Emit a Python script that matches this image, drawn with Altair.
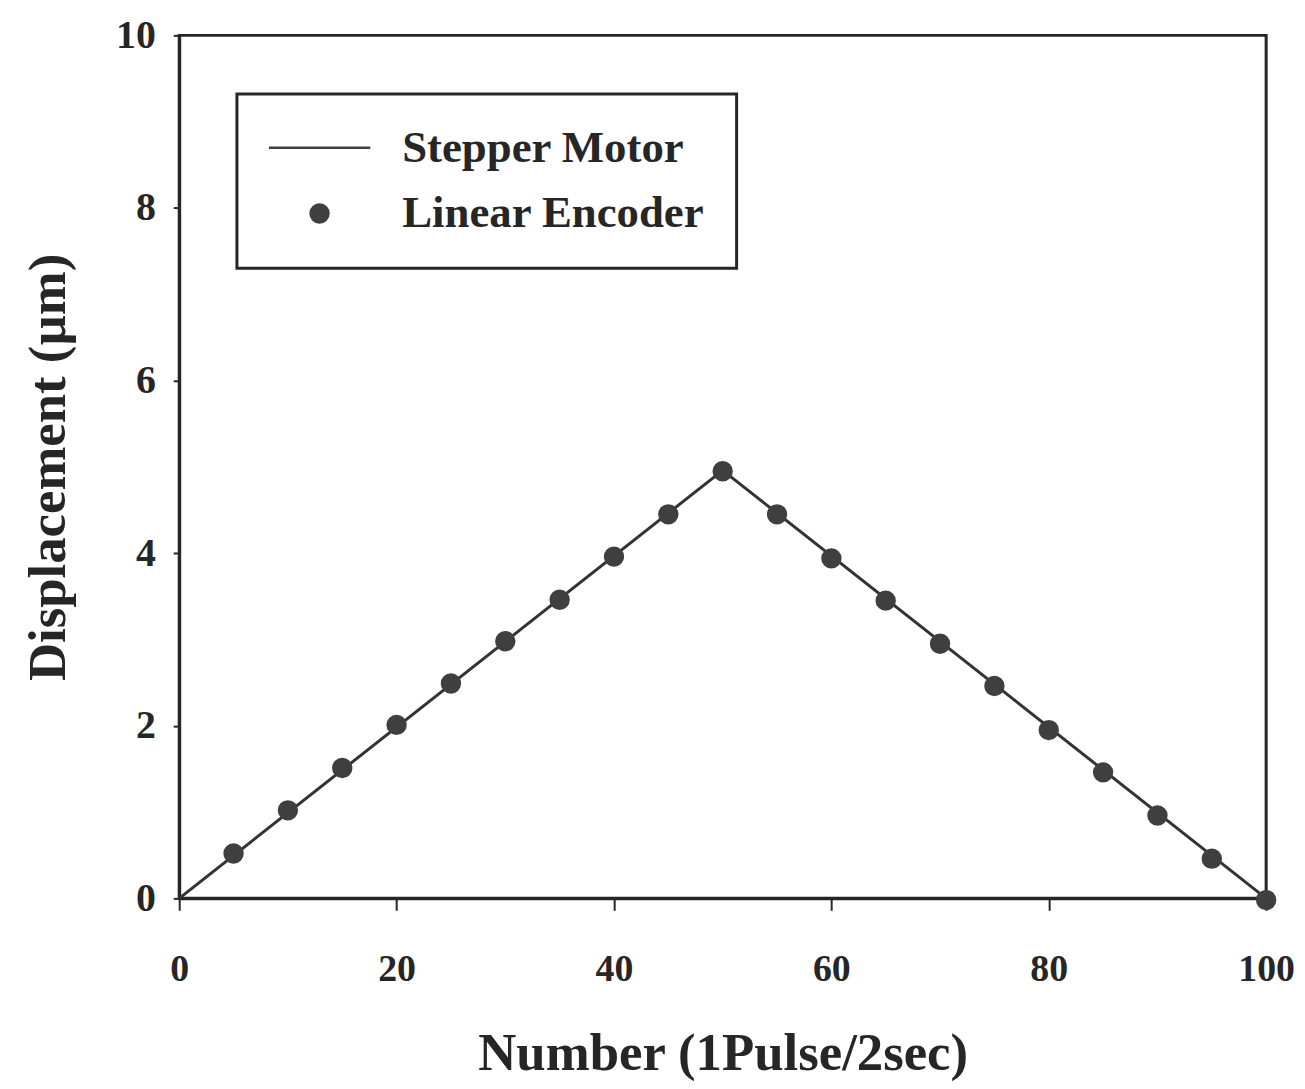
import altair as alt
import pandas as pd

# ---- data ----
motor_x = [0, 50, 100]
motor_y = [0.0, 4.96, 0.0]

enc_x = [5, 10, 15, 20, 25, 30, 35, 40, 45, 50,
         55, 60, 65, 70, 75, 80, 85, 90, 95, 100]
enc_y = [0.52, 1.02, 1.51, 2.01, 2.49, 2.98, 3.46, 3.96, 4.45, 4.95,
         4.45, 3.94, 3.45, 2.95, 2.46, 1.95, 1.46, 0.96, 0.46, -0.02]

series_names = ["Stepper Motor", "Linear Encoder"]
x_ticks = [0, 20, 40, 60, 80, 100]
y_ticks = [0, 2, 4, 6, 8, 10]

motor = pd.DataFrame({"x": motor_x, "y": motor_y, "series": series_names[0]})
enc = pd.DataFrame({"x": enc_x, "y": enc_y, "series": series_names[1]})

FONT = "Liberation Serif"
INK = "#262626"
LINE_SYMBOL = "M-1,-0.025H1V0.025H-1Z"

x_enc = alt.X(
    "x:Q",
    scale=alt.Scale(domain=[0, 100], nice=False, zero=False),
    axis=alt.Axis(
        values=x_ticks, title="Number (1Pulse/2sec)", grid=False,
        labelFontSize=38, titleFontSize=53, labelPadding=41, titlePadding=39,
        tickSize=12, labelFlush=False,
    ),
)
y_enc = alt.Y(
    "y:Q",
    scale=alt.Scale(domain=[0, 10], nice=False, zero=False),
    axis=alt.Axis(
        values=y_ticks, title="Displacement (µm)", grid=False,
        labelFontSize=40, titleFontSize=53, labelPadding=18, titlePadding=40,
        tickSize=6, labelFlush=False,
    ),
)

line = alt.Chart(motor).mark_line(color="#333333", strokeWidth=3).encode(x=x_enc, y=y_enc)

legend_kw = dict(
    title=None, orient="none", legendX=58, legendY=59,
    labelFont=FONT, labelFontSize=45, labelFontWeight="bold", labelColor=INK,
    labelOffset=32, padding=32, rowPadding=21, labelLimit=800, clipHeight=44,
    strokeColor=INK,
    symbolFillColor="#3a3a3a", symbolStrokeWidth=0,
    fillColor="white",
)

points = alt.Chart(enc).mark_point(
    filled=True, opacity=1, fill="#3f3f3f", strokeWidth=0
).encode(
    x=x_enc,
    y=y_enc,
    shape=alt.Shape("series:N", scale=alt.Scale(domain=series_names, range=[LINE_SYMBOL, "circle"]),
                    legend=alt.Legend(**legend_kw)),
    size=alt.Size("series:N", scale=alt.Scale(domain=series_names, range=[10404, 420]),
                  legend=alt.Legend(**legend_kw)),
)

chart = (
    alt.layer(line, points)
    .properties(width=1092, height=867, autosize="none", background="white",
                padding={"left": 172, "top": 25, "right": 31, "bottom": 185})
    .configure_view(stroke=INK, strokeWidth=3)
    .configure_axis(
        labelFont=FONT, titleFont=FONT, labelFontWeight="bold", titleFontWeight="bold",
        labelColor=INK, titleColor=INK, domainColor=INK, domainWidth=3,
        tickColor=INK, tickWidth=2,
    )
    .configure_legend(strokeWidth=3)
)

chart.save("out.html", embed_options={"renderer": "svg", "actions": False})
